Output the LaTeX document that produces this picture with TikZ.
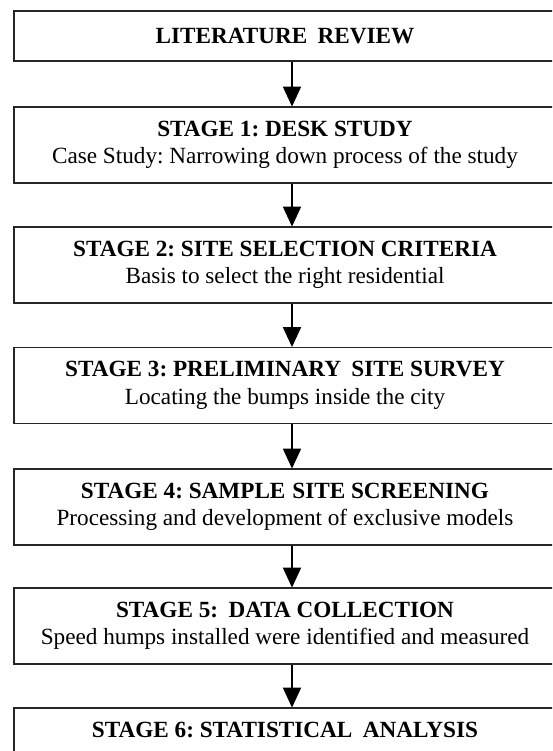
\documentclass[tikz,border=0pt]{standalone}
\usepackage{fontspec}
\setmainfont{Liberation Serif}
\usetikzlibrary{arrows.meta}
\frenchspacing
\begin{document}
\begin{tikzpicture}[x=1pt,y=-1pt,
  stagebox/.style={draw=black!85, line width=1.8pt, fill=white,
    minimum width=542pt, minimum height=76pt, inner sep=0pt,
    align=center, font=\fontsize{23.2}{27.5}\selectfont\frenchspacing},
  flowarrow/.style={line width=1.8pt, draw=black,
    -{Triangle[width=18pt,length=20pt]}, shorten >=-0.5pt}]
\clip (0,0) rectangle (552,751);
\fill[white] (0,0) rectangle (552,751);
\node[stagebox, minimum height=50.3pt] (b0) at (285,35.85)
  {\textbf{LITERATURE\hspace{0.45em}REVIEW}};
\node[stagebox] (b1) at (285,145)
  {\textbf{STAGE 1: DESK STUDY}\\Case Study: Narrowing down process of the study};
\node[stagebox] (b2) at (285,265)
  {\textbf{STAGE 2: SITE SELECTION CRITERIA}\\Basis to select the right residential};
\node[stagebox] (b3) at (285,385.5)
  {\textbf{STAGE 3: PRELIMINARY\hspace{0.45em}SITE SURVEY}\\Locating the bumps inside the city};
\node[stagebox] (b4) at (285,507)
  {\textbf{STAGE 4: SAMPLE\hspace{0.3em}SITE SCREENING}\\Processing and development of exclusive models};
\node[stagebox] (b5) at (285,626)
  {\textbf{STAGE 5:\hspace{0.45em}DATA COLLECTION}\\Speed humps installed were identified and measured};
\node[stagebox] (b6) at (285,746)
  {\textbf{STAGE 6: STATISTICAL\hspace{0.45em}ANALYSIS}\\\phantom{Analysis of the data}};
\foreach \a/\b in {b0/b1,b1/b2,b2/b3,b3/b4,b4/b5,b5/b6}
  \draw[flowarrow] ([xshift=7pt]\a.south) -- ([xshift=7pt]\b.north);
\end{tikzpicture}
\end{document}
